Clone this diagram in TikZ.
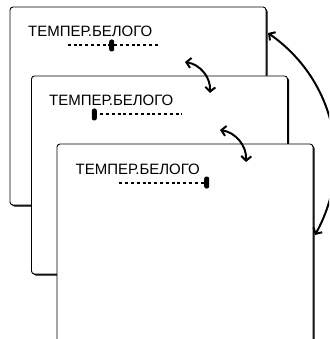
\documentclass[tikz,border=0pt]{standalone}
\usepackage{fontspec}
\setmainfont{Liberation Sans}
\usepackage{tikz}
\usetikzlibrary{arrows.meta, shadows}
\tikzset{
  panelbox/.style={
    rectangle, rounded corners=3pt, draw=black, line width=0.9pt, fill=white,
    minimum width=256pt, minimum height=198pt, inner sep=0pt, outer sep=0pt,
    drop shadow={shadow xshift=1.6pt, shadow yshift=-1.6pt, fill=black, opacity=1}
  },
  titletext/.style={anchor=base west, inner sep=0pt, font=\fontsize{15}{18}\selectfont},
  track/.style={line width=2pt, dash pattern=on 3pt off 2.8pt},
  thumb/.style={rectangle, rounded corners=2.2pt, fill=black, minimum width=5pt, minimum height=12pt, inner sep=0pt},
  swaparrow/.style={{Straight Barb[length=4.5pt,width=10pt]}-{Straight Barb[length=4.5pt,width=10pt]}, line width=2pt}
}
\begin{document}
\begin{tikzpicture}[x=1pt,y=-1pt]
  \useasboundingbox (0,0) rectangle (329,339);
  \clip (0,0) rectangle (329,339);
  % back screen
  \node[panelbox] (panel1) at (138,106) {};
  \node[titletext] (title1) at (28,36.5) {ТЕМПЕР.БЕЛОГО};
  \coordinate (s1a) at (67.7,45.5); \coordinate (s1b) at (158,45.5);
  \draw[track] (s1a) -- (s1b);
  \node[thumb] (thumb1) at (111.7,45.5) {};
  % middle screen
  \node[panelbox] (panel2) at (159.5,175) {};
  \node[titletext] (title2) at (49,105.5) {ТЕМПЕР.БЕЛОГО};
  \coordinate (s2a) at (94.3,114.5); \coordinate (s2b) at (182,114.5);
  \draw[track] (s2a) -- (s2b);
  \node[thumb] (thumb2) at (94.3,114.5) {};
  % front screen
  \node[panelbox] (panel3) at (185,243) {};
  \node[titletext] (title3) at (75.5,174.3) {ТЕМПЕР.БЕЛОГО};
  \coordinate (s3a) at (119.3,182.5); \coordinate (s3b) at (206.7,182.5);
  \draw[track] (s3a) -- (s3b);
  \node[thumb] (thumb3) at (206.7,182.5) {};
  % switching arrows
  \coordinate (a1) at (185,62); \coordinate (b1) at (210,93);
  \coordinate (a2) at (220,130); \coordinate (b2) at (246,162);
  \coordinate (a3) at (268,33); \coordinate (b3) at (315,235);
  \draw[swaparrow] (a1) to[bend left=42] (b1);
  \draw[swaparrow] (a2) to[bend left=42] (b2);
  \draw[swaparrow] (a3) to[bend left=42] (b3);
\end{tikzpicture}
\end{document}
